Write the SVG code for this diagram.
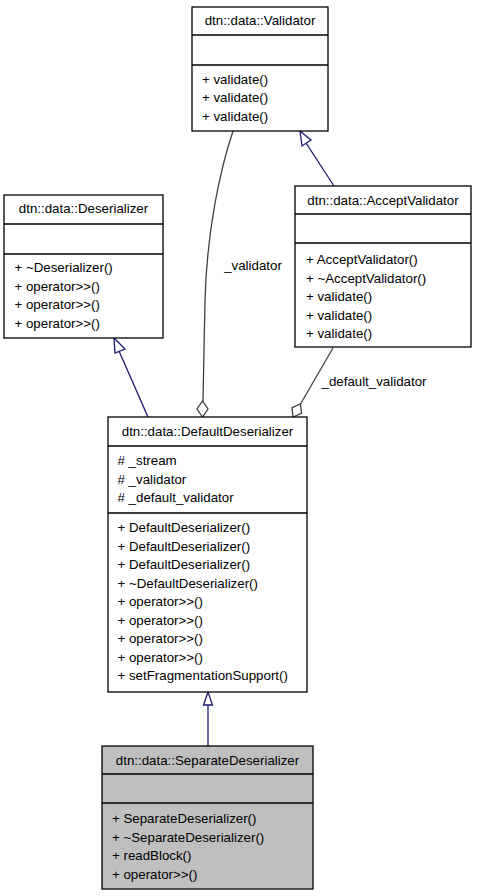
<svg xmlns="http://www.w3.org/2000/svg" width="477" height="896" viewBox="0 0 477 896">
<style>
.box{fill:#fff;stroke:#000;stroke-width:1.3}
.gray{fill:#bfbfbf}
.sep{stroke:#000;stroke-width:1.3}
text{font-family:"Liberation Sans",Arial,sans-serif;font-size:13.3px;fill:#000}
.t{text-anchor:middle}
.inh{fill:none;stroke:#191970;stroke-width:1.3}
.inhHead{fill:#fff;stroke:#191970;stroke-width:1.3}
.agg{fill:none;stroke:#404040;stroke-width:1.3}
.aggHead{fill:#fff;stroke:#404040;stroke-width:1.3}
</style>
<rect width="477" height="896" fill="#fff"/>
<g id="connectors">
  <path class="inh" d="M208,746 L208,705"/>
  <polygon class="inhHead" points="208,692 203.5,705 212.5,705"/>
  <path class="inh" d="M148,417 L119,351"/>
  <polygon class="inhHead" points="114,338 115,353 125,349"/>
  <path class="inh" d="M334,186 L306,143"/>
  <polygon class="inhHead" points="300,131 302,146 311,140"/>
  <path class="agg" d="M233,131 C220,170 207,230 205,300 L203,401"/>
  <polygon class="aggHead" points="202.5,417 197,409 202.5,401 208,409"/>
  <text x="253" y="270" class="t">_validator</text>
  <path class="agg" d="M333,348 L300.5,404"/>
  <polygon class="aggHead" points="293,417 292,407.7 300.5,404 301.5,413.3"/>
  <text x="374" y="386" class="t">_default_validator</text>
</g>
<g id="Validator">
  <rect class="box" x="192" y="7" width="136" height="124"/>
  <line class="sep" x1="192" y1="35" x2="328" y2="35"/>
  <line class="sep" x1="192" y1="65" x2="328" y2="65"/>
  <text x="260" y="25" class="t">dtn::data::Validator</text>
  <text x="202" y="83.5">+ validate()</text>
  <text x="202" y="102">+ validate()</text>
  <text x="202" y="120.5">+ validate()</text>
</g>
<g id="Deserializer">
  <rect class="box" x="4" y="195" width="159" height="143"/>
  <line class="sep" x1="4" y1="224" x2="163" y2="224"/>
  <line class="sep" x1="4" y1="254" x2="163" y2="254"/>
  <text x="83.5" y="213" class="t">dtn::data::Deserializer</text>
  <text x="14.5" y="272">+ ~Deserializer()</text>
  <text x="14.5" y="290.5">+ operator&gt;&gt;()</text>
  <text x="14.5" y="309">+ operator&gt;&gt;()</text>
  <text x="14.5" y="327.5">+ operator&gt;&gt;()</text>
</g>
<g id="AcceptValidator">
  <rect class="box" x="295" y="186" width="176" height="161"/>
  <line class="sep" x1="295" y1="214" x2="471" y2="214"/>
  <line class="sep" x1="295" y1="243" x2="471" y2="243"/>
  <text x="383" y="205" class="t">dtn::data::AcceptValidator</text>
  <text x="306" y="264">+ AcceptValidator()</text>
  <text x="306" y="282.5">+ ~AcceptValidator()</text>
  <text x="306" y="301">+ validate()</text>
  <text x="306" y="319.5">+ validate()</text>
  <text x="306" y="338">+ validate()</text>
</g>
<g id="DefaultDeserializer">
  <rect class="box" x="108" y="417" width="199" height="275"/>
  <line class="sep" x1="108" y1="446" x2="307" y2="446"/>
  <line class="sep" x1="108" y1="513" x2="307" y2="513"/>
  <text x="207.5" y="436" class="t">dtn::data::DefaultDeserializer</text>
  <text x="117.5" y="465"># _stream</text>
  <text x="117.5" y="483.5"># _validator</text>
  <text x="117.5" y="502"># _default_validator</text>
  <text x="117.5" y="532">+ DefaultDeserializer()</text>
  <text x="117.5" y="550.5">+ DefaultDeserializer()</text>
  <text x="117.5" y="569">+ DefaultDeserializer()</text>
  <text x="117.5" y="587.5">+ ~DefaultDeserializer()</text>
  <text x="117.5" y="606">+ operator&gt;&gt;()</text>
  <text x="117.5" y="624.5">+ operator&gt;&gt;()</text>
  <text x="117.5" y="643">+ operator&gt;&gt;()</text>
  <text x="117.5" y="661.5">+ operator&gt;&gt;()</text>
  <text x="117.5" y="680">+ setFragmentationSupport()</text>
</g>
<g id="SeparateDeserializer">
  <rect class="box gray" x="102" y="746" width="211" height="143"/>
  <line class="sep" x1="102" y1="774" x2="313" y2="774"/>
  <line class="sep" x1="102" y1="803" x2="313" y2="803"/>
  <text x="207.5" y="765" class="t">dtn::data::SeparateDeserializer</text>
  <text x="112" y="823">+ SeparateDeserializer()</text>
  <text x="112" y="841.5">+ ~SeparateDeserializer()</text>
  <text x="112" y="860">+ readBlock()</text>
  <text x="112" y="878.5">+ operator&gt;&gt;()</text>
</g>
</svg>
